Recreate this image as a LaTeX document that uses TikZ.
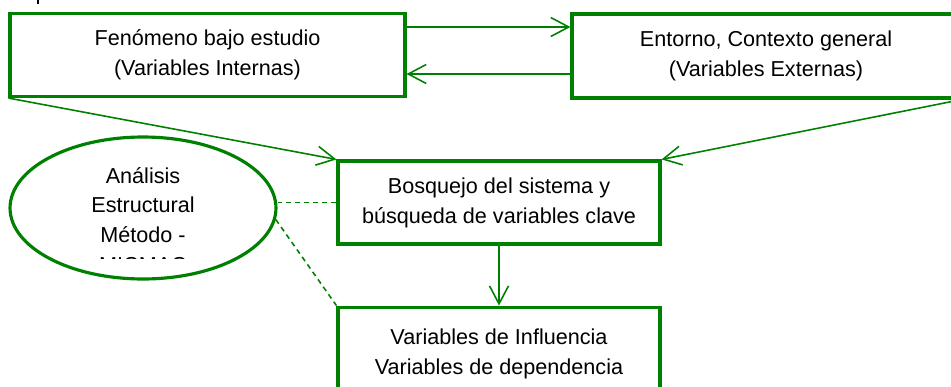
\documentclass[tikz,border=0pt]{standalone}
\usepackage{fontspec}
\setmainfont{Liberation Sans}
\usepackage{xcolor}
\usepackage{tikz}
\usetikzlibrary{shapes,arrows.meta,positioning,calc}
\definecolor{boxgreen}{RGB}{0,128,0}

\begin{document}
\begin{tikzpicture}[
    x=0.02cm, y=-0.02cm,
    font=\fontsize{12.3}{17}\selectfont,
    box/.style={rectangle, draw=boxgreen, line width=1.8pt, minimum width=7.9cm, minimum height=1.66cm, align=center, inner sep=0pt},
    oval/.style={ellipse, draw=boxgreen, line width=1.8pt, minimum width=5.32cm, minimum height=2.84cm, inner sep=0pt},
    arrow/.style={-{Straight Barb[length=0.36cm, width=0.38cm]}, draw=boxgreen, line width=0.9pt},
    darrow/.style={draw=boxgreen, line width=0.9pt, dash pattern=on 2.9pt off 2.3pt}
]
    \useasboundingbox (0,0) rectangle (951,386);
    \clip (0,0) rectangle (951,386);

    \node[box] (fen) at (207.5,55) {Fenómeno bajo estudio\\(Variables Internas)};
    \node[box, minimum width=7.76cm, minimum height=1.68cm] (ent) at (766,56) {Entorno, Contexto general\\(Variables Externas)};
    \node[box, minimum width=6.44cm] (bosq) at (499,202.5) {Bosquejo del sistema y\\búsqueda de variables clave};
    \node[box, minimum width=6.44cm, minimum height=1.88cm, below=1.2cm of bosq] (var) {Variables de Influencia\\Variables de dependencia};
    \node[oval] (ana) at (143,208) {};
    % texto del ovalo, cortado abajo
    \begin{scope}
        \clip (0,130) rectangle (290,258);
        \node[align=center] (anatxt) at (143,220) {Análisis\\Estructural\\Método -\\MICMAC};
    \end{scope}
    \draw[line width=0.8pt] (38,0) -- (38,3.5);

    \coordinate (ida) at ([yshift=0.56cm]fen.east);
    \coordinate (vuelta) at ([yshift=-0.38cm]fen.east);
    \draw[arrow] (ida) -- (ida -| ent.west);
    \draw[arrow] (vuelta -| ent.west) -- (vuelta);
    \draw[arrow] (fen.south west) -- (bosq.north west);
    \draw[arrow] (ent.south east) -- (bosq.north east);
    \draw[arrow] (bosq) -- (var);
    \draw[darrow] (bosq.west) -- (bosq.west -| ana.east);
    \draw[darrow] (ana.-5) -- (var.north west);
\end{tikzpicture}
\end{document}
